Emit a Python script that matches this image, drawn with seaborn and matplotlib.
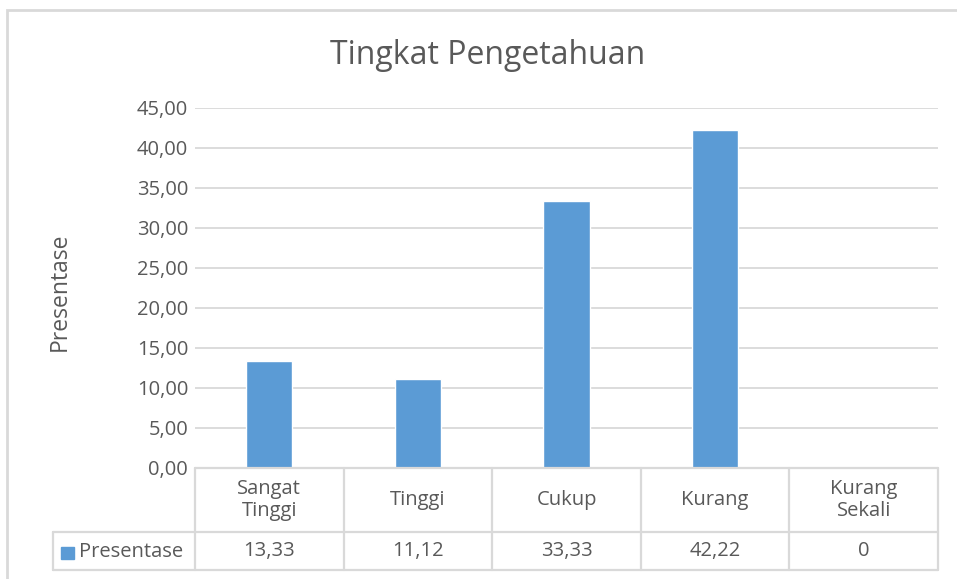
import matplotlib
matplotlib.use("Agg")
import matplotlib.pyplot as plt
import pandas as pd
import seaborn as sns
from matplotlib.patches import Rectangle
from matplotlib.ticker import FuncFormatter

# data
categories = ["Sangat\nTinggi", "Tinggi", "Cukup", "Kurang", "Kurang\nSekali"]
values = [13.33, 11.12, 33.33, 42.22, 0]
value_labels = ["13,33", "11,12", "33,33", "42,22", "0"]
series_name = "Presentase"

df = pd.DataFrame({"kategori": categories, "nilai": values})

sns.set_style("white")
plt.rcParams["font.family"] = ["Open Sans", "DejaVu Sans"]

bar_color = "#5B9BD5"
grid_color = "#D9D9D9"
text_color = "#595959"
fs = 14.5

fig = plt.figure(figsize=(9.57, 5.79), dpi=100)
ax = fig.add_axes([195 / 957, 1 - 468 / 579, 743 / 957, 360 / 579])

sns.barplot(data=df, x="kategori", y="nilai", color=bar_color, width=0.31,
            saturation=1, ax=ax, zorder=3)

ax.set_ylim(0, 45)
ax.set_xlim(-0.5, 4.5)
ax.set_yticks(range(0, 46, 5))
ax.yaxis.set_major_formatter(FuncFormatter(lambda v, p: f"{v:.2f}".replace(".", ",")))
ax.tick_params(axis="y", length=0, labelsize=fs, labelcolor=text_color, pad=5)
ax.set_xticks([])
ax.set_xlabel("")
ax.set_ylabel("Presentase", fontsize=16.5, color=text_color)
ax.yaxis.set_label_coords(-123 / 743, 0.49)
ax.grid(axis="y", color=grid_color, lw=1.3, zorder=0)
for s in ax.spines.values():
    s.set_visible(False)

# data table under the axis
tr = ax.get_xaxis_transform()
row1 = -64 / 360
row2 = -102 / 360
left = -0.5 - 142 / 148.6
line_kw = dict(color=grid_color, lw=1.6, transform=tr, clip_on=False, zorder=4)
ax.plot([-0.5, 4.5], [0, 0], **line_kw)
ax.plot([left, 4.5], [row1, row1], **line_kw)
ax.plot([left, 4.5], [row2, row2], **line_kw)
for i in range(6):
    ax.plot([i - 0.5, i - 0.5], [0, row2], **line_kw)
ax.plot([left, left], [row1, row2], **line_kw)

for i, (c, v) in enumerate(zip(categories, value_labels)):
    ax.text(i, row1 / 2, c, transform=tr, ha="center", va="center",
            fontsize=fs, color=text_color, linespacing=1.15)
    ax.text(i, (row1 + row2) / 2, v, transform=tr, ha="center", va="center",
            fontsize=fs, color=text_color)

fig.add_artist(Rectangle((61 / 957, 1 - 559 / 579), 13 / 957, 12 / 579,
                         transform=fig.transFigure, color=bar_color))
fig.text(79 / 957, 1 - 552 / 579, series_name, ha="left", va="center",
         fontsize=fs, color=text_color)

fig.text(488 / 957, 1 - 56 / 579, "Tingkat Pengetahuan", ha="center", va="center",
         fontsize=23, color=text_color)

# chart area border
fig.add_artist(Rectangle((7 / 957, -0.05), 1.1, 1 - 10 / 579 + 0.05,
                         transform=fig.transFigure, fill=False,
                         edgecolor=grid_color, lw=2))

fig.savefig("out.png", dpi=100)
